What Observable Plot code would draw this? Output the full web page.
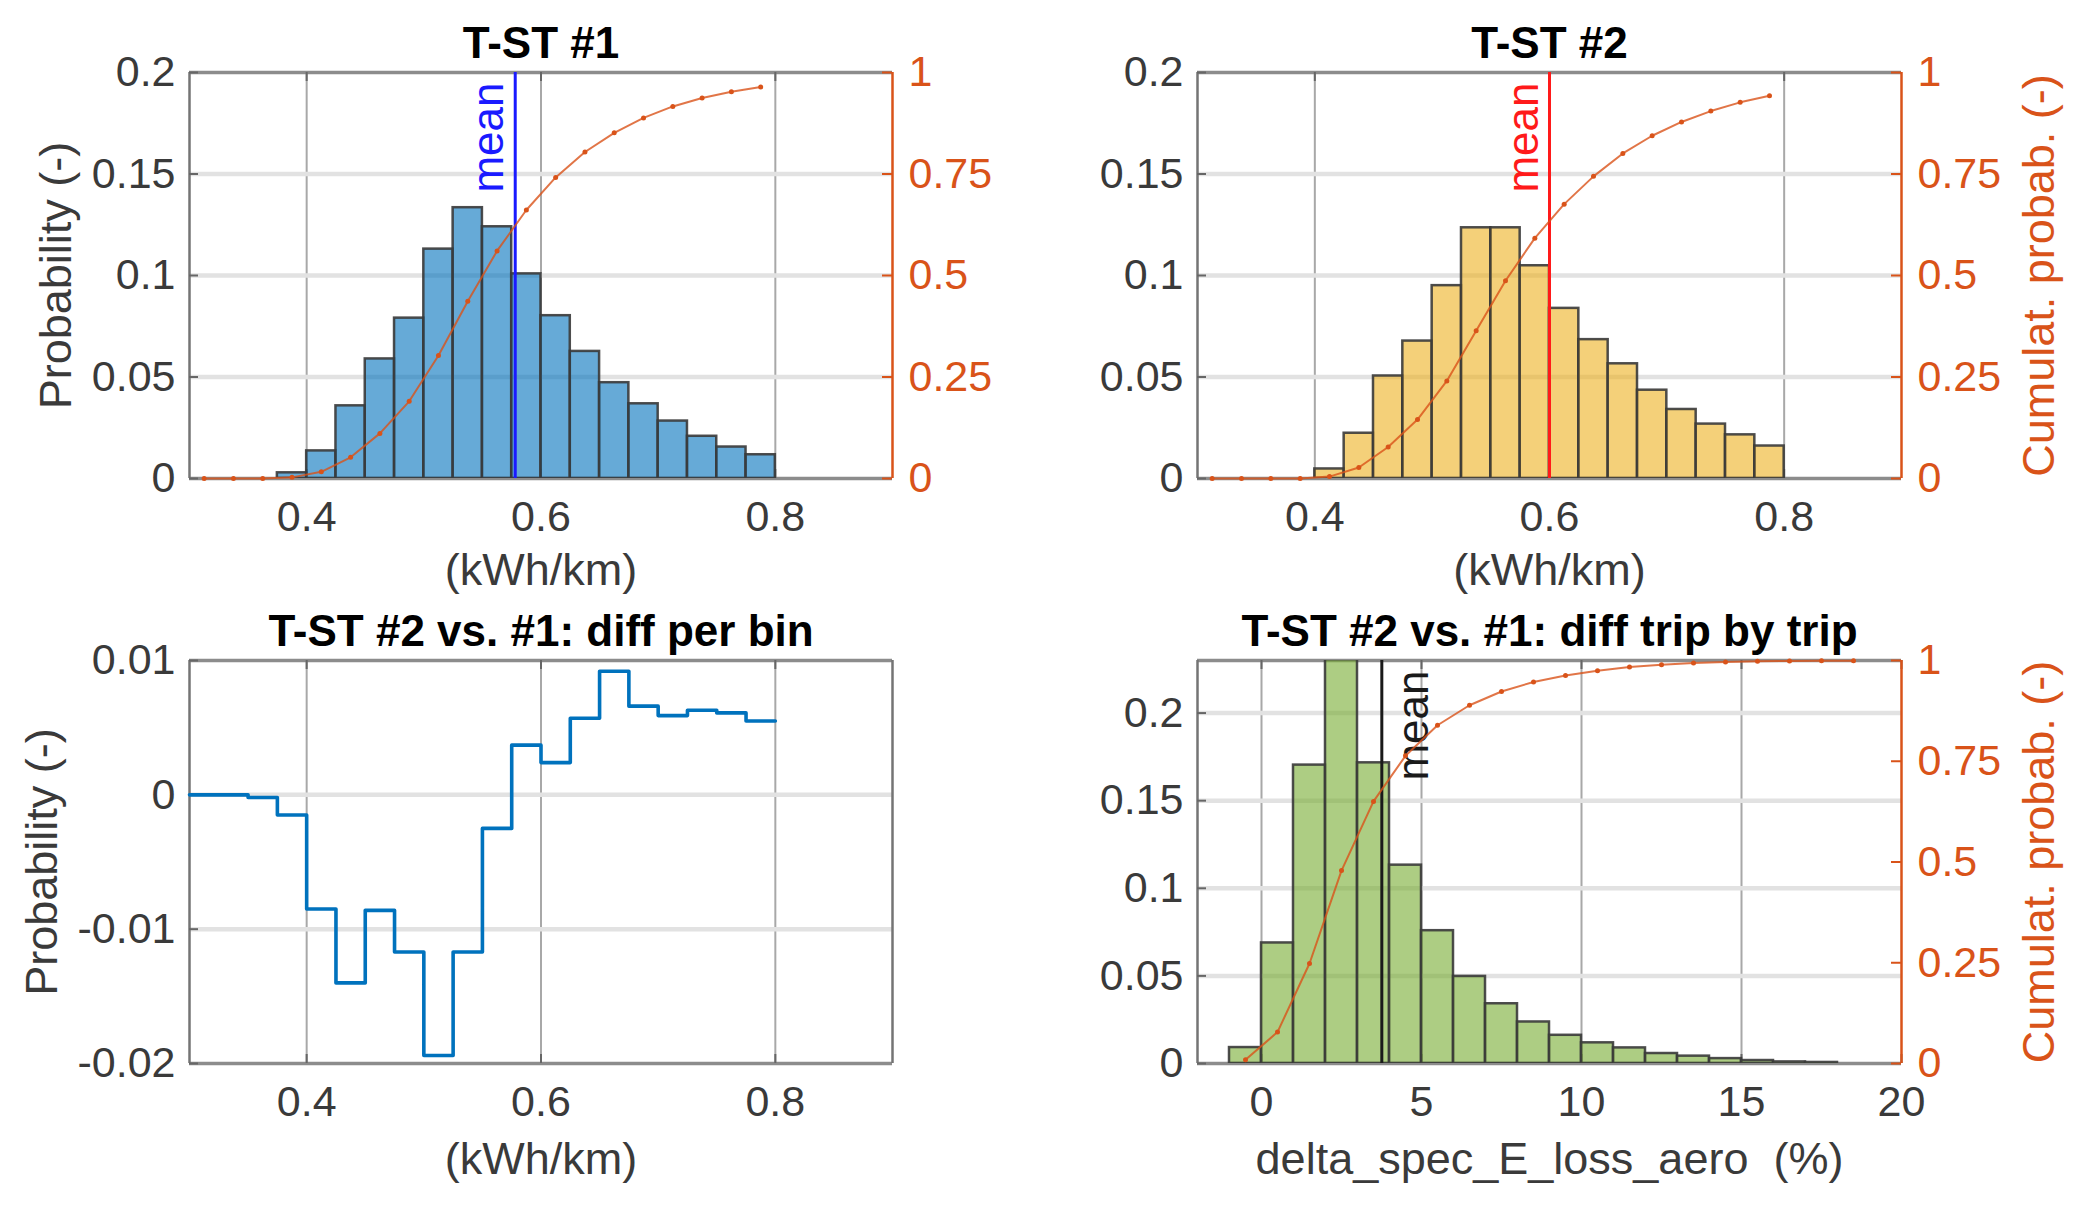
<!DOCTYPE html>
<html>
<head>
<meta charset="utf-8">
<title>T-ST energy consumption distributions</title>
<script src="https://cdn.jsdelivr.net/npm/d3@7"></script>
<script src="https://cdn.jsdelivr.net/npm/@observablehq/plot@0.6"></script>
<style>
  html, body { margin: 0; padding: 0; background: #fff; }
  #fig { position: relative; width: 2087px; height: 1207px; overflow: hidden; background: #fff; }
  .layer { position: absolute; }
  .layer svg { display: block; overflow: visible; max-width: none; }
</style>
</head>
<body>
<div id="fig"></div>
<script>
// ---- data -------------------------------------------------------------
// Bin edges of the specific energy histograms (kWh/km)
const kwhEdges = [0.3, 0.325, 0.35, 0.375, 0.4, 0.425, 0.45, 0.475, 0.5, 0.525, 0.55,
                  0.575, 0.6, 0.625, 0.65, 0.675, 0.7, 0.725, 0.75, 0.775, 0.8];
// Probability per bin, T-ST #1
const tst1Prob = [0, 0, 0, 0.0028, 0.0136, 0.0358, 0.0589, 0.0790, 0.1130, 0.1334,
                  0.1240, 0.1008, 0.0802, 0.0626, 0.0472, 0.0368, 0.0283, 0.0208, 0.0155, 0.0117];
// Probability per bin, T-ST #2
const tst2Prob = [0, 0, 0, 0, 0.0047, 0.0223, 0.0505, 0.0677, 0.0950, 0.1235,
                  0.1235, 0.1048, 0.0838, 0.0684, 0.0565, 0.0435, 0.0340, 0.0268, 0.0215, 0.0160];
// Difference per bin, T-ST #2 minus T-ST #1
const diffPerBin = [0, 0, -0.0002, -0.0015, -0.0085, -0.0140, -0.0086, -0.0117, -0.0194, -0.0117,
                    -0.0025, 0.0037, 0.0024, 0.0057, 0.0092, 0.0066, 0.0059, 0.0063, 0.0061, 0.0055];
const tst1Mean = 0.578;
const tst2Mean = 0.600;

// Trip-by-trip difference of delta_spec_E_loss_aero (%)
const deltaEdges = [-1, 0, 1, 2, 3, 4, 5, 6, 7, 8, 9, 10, 11, 12, 13, 14, 15, 16, 17, 18, 19];
const deltaProb = [0.0091, 0.0688, 0.1703, 0.2305, 0.1716, 0.1132, 0.0758, 0.0497, 0.0341, 0.0237,
                   0.0161, 0.0118, 0.0089, 0.0057, 0.0042, 0.0028, 0.0017, 0.0009, 0.0006, 0];
const deltaMean = 3.76;

// Axis ticks
const kwhTicks = [0.4, 0.6, 0.8];
const probTicks = [0, 0.05, 0.1, 0.15, 0.2];
const cumTicks = [0, 0.25, 0.5, 0.75, 1];
const diffTicks = [-0.02, -0.01, 0, 0.01];
const deltaTicks = [0, 5, 10, 15, 20];

// ---- styling ----------------------------------------------------------
const FONT = "'Liberation Sans', Arial, Helvetica, sans-serif";
const INK = "#3a3a3a";
const CUM = "#D95319";
const TICK_FS = 43;
const LABEL_FS = 45;
const TITLE_FS = 44;

const fig = document.getElementById("fig");

// Panel boxes: outer position of each svg and the margins around its axes box
const panels = {
  tl: {left: 0,    top: 0,   width: 1043, height: 600, ml: 189, mr: 151, mt: 72, mb: 122},
  tr: {left: 1043, top: 0,   width: 1044, height: 600, ml: 154, mr: 186, mt: 72, mb: 122},
  bl: {left: 0,    top: 600, width: 1043, height: 607, ml: 189, mr: 151, mt: 60, mb: 144},
  br: {left: 1043, top: 600, width: 1044, height: 607, ml: 154, mr: 186, mt: 60, mb: 144}
};

function binRows(edges, values) {
  const cum = d3.cumsum(values);
  return values.map((v, i) => ({
    x0: edges[i], x1: edges[i + 1], mid: (edges[i] + edges[i + 1]) / 2, v, cum: cum[i]
  }));
}

function mount(g, spec) {
  const div = document.createElement("div");
  div.className = "layer";
  div.style.left = g.left + "px";
  div.style.top = g.top + "px";
  div.style.width = g.width + "px";
  div.style.height = g.height + "px";
  const svg = Plot.plot({
    width: g.width,
    height: g.height,
    marginLeft: g.ml, marginRight: g.mr, marginTop: g.mt, marginBottom: g.mb,
    style: {fontFamily: FONT, background: "transparent", overflow: "visible"},
    ...spec
  });
  div.appendChild(svg);
  fig.appendChild(div);
}

const inner = (g) => ({iw: g.width - g.ml - g.mr, ih: g.height - g.mt - g.mb});
const fmt = (d) => String(d);

// Grid, box and inward ticks of a MATLAB-like axes
function axesBox(g, {xGrid, yGrid, xTicks, yTicks, xd, yd, rightEdge}) {
  const {iw, ih} = inner(g);
  return [
    Plot.ruleX(xGrid, {x: (d) => d, stroke: "#a8a8a8", strokeWidth: 2}),
    Plot.ruleY(yGrid, {y: (d) => d, stroke: "#e2e2e2", strokeWidth: 4.5})
  ].concat([
    // box
    Plot.ruleY([yd[0], yd[1]], {y: (d) => d, stroke: "#8c8c8c", strokeWidth: 3.5}),
    Plot.ruleX([xd[0]], {x: (d) => d, stroke: "#747474", strokeWidth: 2.5})
  ], rightEdge ? [Plot.ruleX([xd[1]], {x: (d) => d, stroke: "#747474", strokeWidth: 2.5})] : [], [
    // inward ticks on bottom, top and left
    Plot.tickX(xTicks, {x: (d) => d, insetTop: ih - 9, stroke: "#666", strokeWidth: 2}),
    Plot.tickX(xTicks, {x: (d) => d, insetBottom: ih - 9, stroke: "#666", strokeWidth: 2}),
    Plot.tickY(yTicks, {y: (d) => d, insetRight: iw - 9, stroke: "#666", strokeWidth: 2}),
    // tick labels
    Plot.axisX(xTicks, {tickSize: 0, tickPadding: 22, fontSize: TICK_FS, color: INK, tickFormat: fmt, label: null}),
    Plot.axisY(yTicks, {anchor: "left", tickSize: 0, tickPadding: 14, fontSize: TICK_FS, color: INK, tickFormat: fmt, label: null})
  ]);
}

function title(t) {
  return Plot.text([t], {text: (d) => d, frameAnchor: "top", dy: -15, lineAnchor: "bottom",
    fontSize: TITLE_FS, fontWeight: "bold", fill: "#000"});
}
function xLabel(t, dy) {
  return Plot.text([t], {text: (d) => d, frameAnchor: "bottom", dy, lineAnchor: "bottom",
    fontSize: LABEL_FS, fill: INK});
}
function yLabel(t, dx) {
  return Plot.text([t], {text: (d) => d, frameAnchor: "left", dx, rotate: -90, lineAnchor: "bottom",
    textAnchor: "middle", fontSize: LABEL_FS, fill: INK});
}
function meanMarks(m, color, dx) {
  return [
    Plot.ruleX([m], {x: (d) => d, stroke: color, strokeWidth: 3}),
    Plot.text([m], {x: (d) => d, text: () => "mean", frameAnchor: "top", dy: 10, dx, rotate: -90,
      textAnchor: "end", lineAnchor: "bottom", fontSize: 44, fill: color})
  ];
}
// Histogram bars (empty bins are left out)
function bars(rows, color) {
  return Plot.rectY(rows.filter((d) => d.v > 0), {x1: "x0", x2: "x1", y1: 0, y2: "v", fill: color, fillOpacity: 0.6,
    stroke: "#3a3a3a", strokeWidth: 2.5, strokeOpacity: 0.9, clip: true});
}

// Cumulative probability layer with its own right-hand axis (0..1)
function cumulativeLayer(g, rows, xd, withLabel) {
  const {iw} = inner(g);
  mount(g, {
    x: {domain: xd, axis: null},
    y: {domain: [0, 1]},
    marks: [
      Plot.ruleX([xd[1]], {x: (d) => d, stroke: CUM, strokeWidth: 2.5}),
      Plot.tickY(cumTicks, {y: (d) => d, insetLeft: iw - 10, stroke: CUM, strokeWidth: 2}),
      Plot.line(rows, {x: "mid", y: "cum", stroke: CUM, strokeWidth: 2, strokeOpacity: 0.8}),
      Plot.dot(rows, {x: "mid", y: "cum", r: 2.5, fill: CUM, stroke: null}),
      Plot.axisY(cumTicks, {anchor: "right", tickSize: 0, tickPadding: 16, fontSize: TICK_FS,
        color: CUM, tickFormat: fmt, label: null}),
      ...(withLabel ? [Plot.text(["Cumulat. probab. (-)"], {text: (d) => d, frameAnchor: "right", dx: 152,
        rotate: -90, lineAnchor: "bottom", textAnchor: "middle", fontSize: LABEL_FS, fill: CUM})] : [])
    ]
  });
}

// ---- T-ST #1 ----------------------------------------------------------
{
  const g = panels.tl, xd = [0.3, 0.9], yd = [0, 0.2];
  const rows = binRows(kwhEdges, tst1Prob);
  mount(g, {
    x: {domain: xd},
    y: {domain: yd},
    marks: [
      ...axesBox(g, {xGrid: kwhTicks, yGrid: [0.05, 0.1, 0.15], xTicks: kwhTicks, yTicks: probTicks, xd, yd}),
      bars(rows, "#0072BD"),
      ...meanMarks(tst1Mean, "#1a1aff", -12),
      title("T-ST #1"),
      xLabel("(kWh/km)", 106),
      yLabel("Probability (-)", -119)
    ]
  });
  cumulativeLayer(g, rows, xd, false);
}

// ---- T-ST #2 ----------------------------------------------------------
{
  const g = panels.tr, xd = [0.3, 0.9], yd = [0, 0.2];
  const rows = binRows(kwhEdges, tst2Prob);
  mount(g, {
    x: {domain: xd},
    y: {domain: yd},
    marks: [
      ...axesBox(g, {xGrid: kwhTicks, yGrid: [0.05, 0.1, 0.15], xTicks: kwhTicks, yTicks: probTicks, xd, yd}),
      bars(rows, "#EDB120"),
      ...meanMarks(tst2Mean, "#ff1a1a", -12),
      title("T-ST #2"),
      xLabel("(kWh/km)", 106)
    ]
  });
  cumulativeLayer(g, rows, xd, true);
}

// ---- difference per bin ----------------------------------------------
{
  const g = panels.bl, xd = [0.3, 0.9], yd = [-0.02, 0.01];
  const steps = diffPerBin.map((v, i) => ({x: kwhEdges[i], v}))
    .concat([{x: kwhEdges[kwhEdges.length - 1], v: diffPerBin[diffPerBin.length - 1]}]);
  mount(g, {
    x: {domain: xd},
    y: {domain: yd},
    marks: [
      ...axesBox(g, {xGrid: kwhTicks, yGrid: [-0.01, 0], xTicks: kwhTicks, yTicks: diffTicks, xd, yd, rightEdge: true}),
      Plot.line(steps, {x: "x", y: "v", curve: "step-after", stroke: "#0072BD", strokeWidth: 3.6}),
      title("T-ST #2 vs. #1: diff per bin"),
      xLabel("(kWh/km)", 110),
      yLabel("Probability (-)", -133)
    ]
  });
}

// ---- difference trip by trip -----------------------------------------
{
  const g = panels.br, xd = [-2, 20], yd = [0, 0.23];
  const rows = binRows(deltaEdges, deltaProb);
  mount(g, {
    x: {domain: xd},
    y: {domain: yd},
    marks: [
      ...axesBox(g, {xGrid: [0, 5, 10, 15], yGrid: [0.05, 0.1, 0.15, 0.2], xTicks: deltaTicks,
        yTicks: [0, 0.05, 0.1, 0.15, 0.2], xd, yd}),
      bars(rows, "#77AC30"),
      ...meanMarks(deltaMean, "#1a1a1a", 46),
      title("T-ST #2 vs. #1: diff trip by trip"),
      xLabel("delta_spec_E_loss_aero\u00a0\u00a0(%)", 110)
    ]
  });
  cumulativeLayer(g, rows, xd, true);
}
</script>
</body>
</html>
